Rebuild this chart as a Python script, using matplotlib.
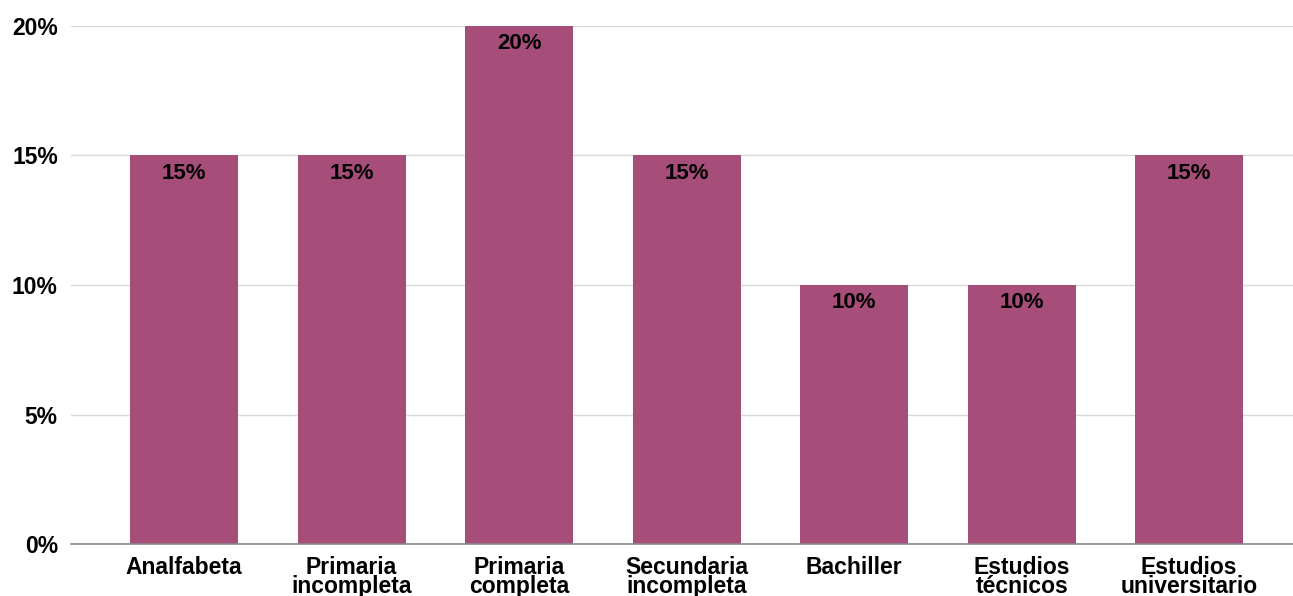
import matplotlib
matplotlib.use("Agg")
import matplotlib.pyplot as plt
from matplotlib.ticker import FuncFormatter

categories = ["Analfabeta", "Primaria\nincompleta", "Primaria\ncompleta",
              "Secundaria\nincompleta", "Bachiller", "Estudios\ntécnicos",
              "Estudios\nuniversitario"]
values = [15, 15, 20, 15, 10, 10, 15]
yticks = [0, 5, 10, 15, 20]

bar_color = "#a64d79"
plt.rcParams["font.family"] = ["Liberation Sans", "DejaVu Sans"]
plt.rcParams["font.weight"] = "bold"

fig = plt.figure(figsize=(12.93, 5.96), dpi=100)
ax = fig.add_axes([71 / 1293, 1 - 544 / 596, 1 - 71 / 1293, (544 - 26) / 596])

x = list(range(len(categories)))
bars = ax.bar(x, values, width=0.645, color=bar_color, zorder=3)

for b, v in zip(bars, values):
    ax.text(b.get_x() + b.get_width() / 2, v - 0.68, f"{v}%",
            ha="center", va="center", fontsize=16, fontweight="bold",
            color="black", zorder=4)

ax.set_xlim(-0.675, 6.62)
ax.set_ylim(0, 20)
ax.set_yticks(yticks)
ax.yaxis.set_major_formatter(FuncFormatter(lambda v, p: f"{v:.0f}%"))
ax.set_xticks(x)
ax.set_xticklabels(categories, fontsize=16.5, fontweight="bold", linespacing=0.8)
for lbl in ax.get_yticklabels():
    lbl.set_fontsize(16.5)
    lbl.set_fontweight("bold")

ax.grid(axis="y", color="#d9d9d9", linewidth=1, zorder=0)
ax.tick_params(axis="both", length=0)
ax.tick_params(axis="y", pad=9.5)
ax.tick_params(axis="x", pad=8.5)
for s in ["top", "right", "left"]:
    ax.spines[s].set_visible(False)
ax.spines["bottom"].set_color("#888888")
ax.spines["bottom"].set_linewidth(1.2)
ax.spines["bottom"].set_zorder(5)

fig.savefig("out.png", dpi=100, facecolor="white")
